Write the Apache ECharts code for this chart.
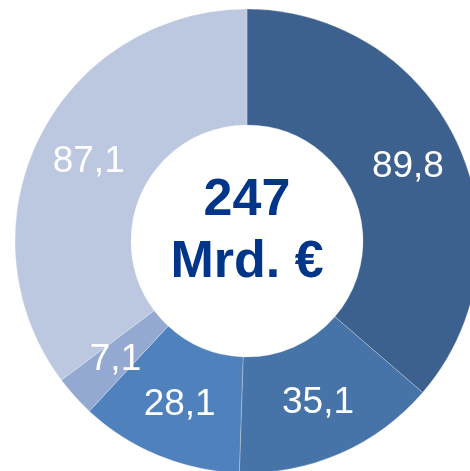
<!DOCTYPE html>
<html>
<head>
<meta charset="utf-8">
<script src="https://cdn.jsdelivr.net/npm/echarts@6/dist/echarts.min.js"></script>
<style>
  html, body { margin: 0; padding: 0; background: #fff; }
  #chart { width: 470px; height: 471px; }
</style>
</head>
<body>
<div id="chart"></div>
<script>
// Anteile in Mrd. €, im Uhrzeigersinn ab 12 Uhr
const values = [89.8, 35.1, 28.1, 7.1, 87.1]
const labels = ['89,8', '35,1', '28,1', '7,1', '87,1']
const colors = ['#3d618e', '#4673a8', '#4f81bd', '#94a9d1', '#bbc8e0']
const totalText = '247'
const unitText = 'Mrd. €'

const chart = echarts.init(document.getElementById('chart'))

chart.setOption({
  animation: false,
  series: [
    {
      type: 'pie',
      center: [247, 241],
      radius: [116, 232],
      startAngle: 90,
      clockwise: true,
      silent: true,
      data: values.map((v, i) => ({
        value: v,
        name: labels[i],
        itemStyle: { color: colors[i] }
      })),
      itemStyle: {
        borderColor: 'rgba(255,255,255,0.5)',
        borderWidth: 0.5
      },
      label: {
        show: true,
        position: 'inside',
        formatter: '{b}',
        color: '#fff',
        fontFamily: 'Liberation Sans, Arial, sans-serif',
        fontSize: 37
      },
      labelLine: { show: false }
    }
  ],
  graphic: [
    {
      type: 'text',
      x: 247,
      y: 175,
      style: {
        text: totalText,
        fill: '#00358a',
        align: 'center',
        verticalAlign: 'top',
        font: 'bold 52px "Liberation Sans", Arial, sans-serif'
      }
    },
    {
      type: 'text',
      x: 247,
      y: 237,
      style: {
        text: unitText,
        fill: '#00358a',
        align: 'center',
        verticalAlign: 'top',
        font: 'bold 52px "Liberation Sans", Arial, sans-serif'
      }
    }
  ]
})
</script>
</body>
</html>
